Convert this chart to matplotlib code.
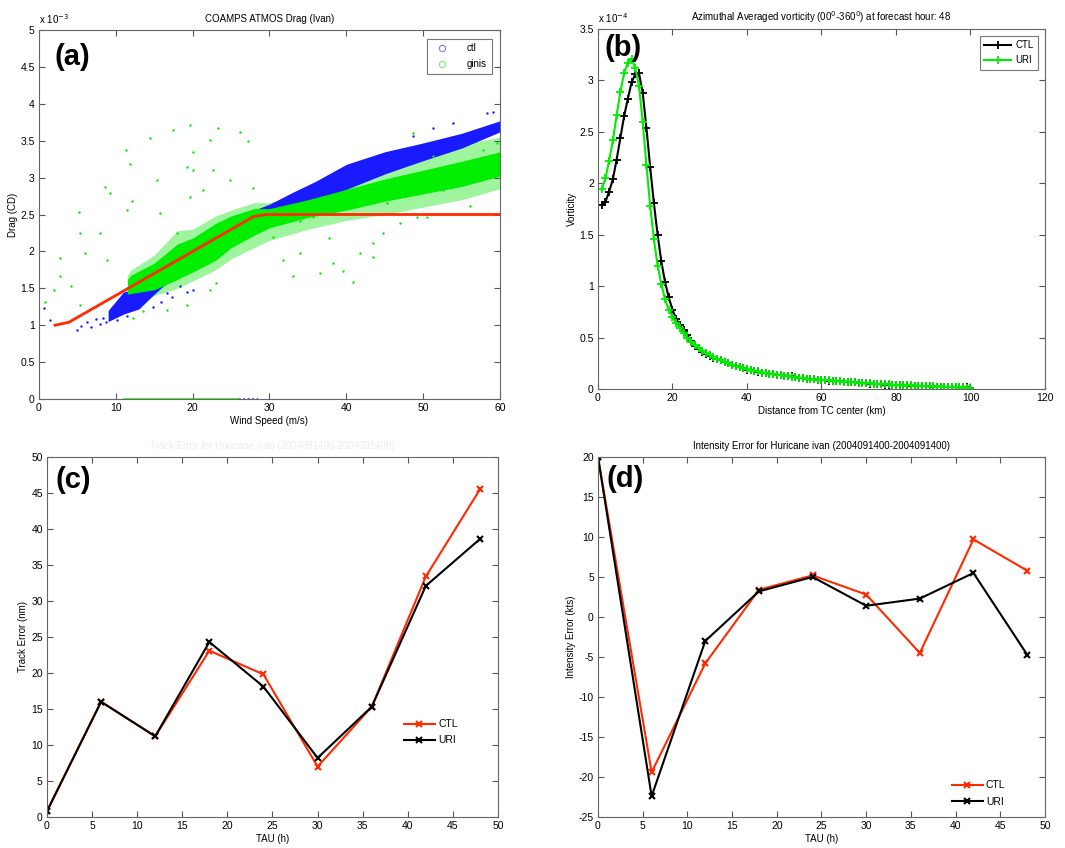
import numpy as np
import matplotlib
matplotlib.use("Agg")
import matplotlib.pyplot as plt
from matplotlib.lines import Line2D

plt.rcParams['font.family'] = ['Liberation Sans', 'DejaVu Sans']
plt.rcParams['font.size'] = 7
plt.rcParams['axes.unicode_minus'] = False
plt.rcParams['axes.linewidth'] = 0.8
plt.rcParams['axes.edgecolor'] = '#555555'
plt.rcParams['xtick.color'] = '#555555'
plt.rcParams['ytick.color'] = '#555555'
plt.rcParams['xtick.labelcolor'] = 'black'
plt.rcParams['ytick.labelcolor'] = 'black'

# ---------------- (a) drag vs wind speed (CD in 1e-3) ----------------
red_ws = [2.1, 3.9, 27.9, 29.5, 60.0]
red_cd = [1.00, 1.04, 2.47, 2.50, 2.50]

# dense cores of the two scatter clouds
ctl_ws = [9, 11, 13, 15, 18, 21, 24, 27, 28.5, 30, 33, 36, 40, 45, 50, 55, 60]
ctl_lo = [1.05, 1.15, 1.22, 1.42, 1.70, 1.85, 2.05, 2.20, 2.45, 2.48, 2.58, 2.70, 2.84, 3.05, 3.23, 3.40, 3.62]
ctl_hi = [1.20, 1.45, 1.50, 1.55, 1.95, 2.15, 2.35, 2.48, 2.58, 2.64, 2.80, 2.95, 3.18, 3.35, 3.47, 3.60, 3.77]

gin_ws = [11.5, 12, 15, 18, 20, 23, 25, 28, 30, 35, 40, 45, 50, 55, 60]
gin_lo = [1.42, 1.43, 1.48, 1.62, 1.72, 1.88, 2.05, 2.22, 2.32, 2.46, 2.56, 2.68, 2.78, 2.88, 3.02]
gin_hi = [1.62, 1.68, 1.84, 2.10, 2.18, 2.38, 2.48, 2.58, 2.58, 2.70, 2.84, 2.98, 3.10, 3.22, 3.35]
gin_halo_lo = [1.35, 1.38, 1.40, 1.50, 1.60, 1.75, 1.90, 2.05, 2.15, 2.30, 2.42, 2.50, 2.60, 2.70, 2.85]
gin_halo_hi = [1.68, 1.75, 1.95, 2.28, 2.30, 2.48, 2.56, 2.66, 2.66, 2.80, 2.96, 3.15, 3.35, 3.45, 3.55]

# scattered outliers
gin_pts_ws = [0.8, 2.7, 4.2, 5.3, 5.2, 2.7, 8.6, 8.8, 11.9, 11.3, 11.5, 12.1, 14.5, 15.8, 17.5, 17.9,
              19.7, 20.1, 21.4, 23.3, 22.3, 26.2, 27.2, 22.7, 24.9, 19.2, 15.3, 9.2, 6.0, 7.9, 30.5,
              31.8, 34.0, 37.7, 36.6, 39.6, 38.3, 41.8, 43.5, 44.8, 47.0, 50.5, 45.3, 48.3, 48.7, 51.3,
              52.6, 56.1, 57.8, 59.6, 43.5, 40.9, 33.1, 19.7, 13.6, 16.6, 19.2, 22.3, 23.1, 12.3, 5.3,
              1.9, 34.0, 35.7, 49.2, 54.8, 27.9, 20.1]
gin_pts_cd = [1.32, 1.91, 1.53, 2.25, 2.53, 1.67, 2.87, 1.89, 3.19, 3.38, 2.56, 2.68, 3.53, 2.52, 3.65, 2.25,
              3.71, 3.35, 2.83, 3.67, 3.51, 3.62, 3.49, 3.10, 2.97, 3.15, 2.97, 2.79, 1.98, 2.25, 2.20,
              1.89, 1.98, 2.18, 1.71, 1.73, 1.84, 1.98, 2.11, 2.25, 2.38, 2.47, 2.65, 2.83, 3.60, 3.29,
              2.83, 2.61, 3.38, 3.47, 1.93, 1.59, 1.66, 2.74, 1.19, 1.21, 1.28, 1.48, 1.57, 1.10, 1.28,
              1.48, 2.41, 2.47, 2.47, 3.06, 2.86, 3.10]
ctl_pts_ws = [0.6, 1.4, 4.9, 5.5, 6.2, 6.8, 7.4, 7.9, 8.3, 8.7, 9.2, 10.1, 11.4, 14.8, 15.9, 16.6,
              17.3, 18.4, 19.2, 20.1, 48.7, 51.3, 53.9, 58.3, 59.1, 57.4]
ctl_pts_cd = [1.23, 1.07, 0.94, 0.99, 1.05, 0.97, 1.08, 1.01, 1.10, 1.04, 1.14, 1.07, 1.12, 1.25, 1.32, 1.43,
              1.38, 1.53, 1.45, 1.48, 3.56, 3.67, 3.74, 3.87, 3.89, 3.62]

# points sitting on CD = 0
gin_zero_ws = [11.0, 26.0]
ctl_zero_ws = [26.0, 28.5]

# ---------------- (b) vorticity profile (1e-4) ----------------
dist_km = list(range(1, 101))
vort_ctl = [1.79, 1.82, 1.92, 2.04, 2.23, 2.44, 2.65, 2.82, 2.98, 3.06,
            3.07, 2.88, 2.54, 2.16, 1.81, 1.50, 1.24, 1.04, 0.89, 0.77,
            0.68, 0.62, 0.57, 0.52, 0.47, 0.42, 0.39, 0.36, 0.34, 0.32,
            0.305, 0.29, 0.28, 0.26, 0.25, 0.235, 0.22, 0.21, 0.20, 0.185,
            0.18, 0.17, 0.165, 0.16, 0.155, 0.15, 0.145, 0.14, 0.135, 0.13,
            0.13, 0.125, 0.115, 0.11, 0.105, 0.10, 0.095, 0.093, 0.09, 0.088,
            0.085, 0.082, 0.08, 0.077, 0.074, 0.072, 0.07, 0.068, 0.065, 0.06,
            0.057, 0.055, 0.052, 0.05, 0.048, 0.045, 0.043, 0.04, 0.039, 0.038,
            0.037, 0.035, 0.034, 0.032, 0.031, 0.03, 0.028, 0.027, 0.025, 0.024,
            0.023, 0.022, 0.021, 0.02, 0.019, 0.018, 0.017, 0.016, 0.015, 0.014]
vort_uri = [1.94, 2.05, 2.22, 2.42, 2.66, 2.89, 3.07, 3.17, 3.21, 3.12,
            2.95, 2.60, 2.18, 1.78, 1.46, 1.20, 1.02, 0.87, 0.77, 0.70,
            0.64, 0.59, 0.54, 0.50, 0.46, 0.43, 0.40, 0.37, 0.35, 0.33,
            0.31, 0.295, 0.28, 0.265, 0.25, 0.235, 0.225, 0.21, 0.20, 0.19,
            0.18, 0.175, 0.17, 0.16, 0.155, 0.15, 0.145, 0.14, 0.135, 0.13,
            0.125, 0.12, 0.115, 0.11, 0.105, 0.10, 0.098, 0.095, 0.092, 0.09,
            0.087, 0.084, 0.081, 0.078, 0.075, 0.072, 0.069, 0.066, 0.063, 0.06,
            0.058, 0.056, 0.054, 0.052, 0.05, 0.048, 0.046, 0.044, 0.042, 0.04,
            0.038, 0.037, 0.035, 0.034, 0.032, 0.031, 0.029, 0.028, 0.026, 0.025,
            0.024, 0.022, 0.021, 0.02, 0.018, 0.017, 0.016, 0.015, 0.014, 0.013]

# ---------------- (c) and (d) track / intensity error ----------------
tau = [0, 6, 12, 18, 24, 30, 36, 42, 48]
track_ctl = [0.8, 16.0, 11.2, 23.1, 19.8, 7.0, 15.3, 33.4, 45.5]
track_uri = [0.8, 16.0, 11.2, 24.3, 18.1, 8.2, 15.3, 32.1, 38.6]
inten_ctl = [20.0, -19.4, -5.8, 3.4, 5.2, 2.8, -4.5, 9.7, 5.8]
inten_uri = [20.0, -22.4, -3.0, 3.2, 5.0, 1.4, 2.3, 5.5, -4.7]

RED = '#ff2a00'
GREEN = '#00ee00'
LIGHT_GREEN = '#9ef59e'
BLUE = '#1a1aff'

fig = plt.figure(figsize=(10.65, 8.48), dpi=100)
ax_a = fig.add_axes([0.0366, 0.5295, 0.4329, 0.4351])
ax_b = fig.add_axes([0.5615, 0.5413, 0.4197, 0.4245])
ax_c = fig.add_axes([0.0441, 0.0366, 0.4235, 0.4245])
ax_d = fig.add_axes([0.5615, 0.0366, 0.4197, 0.4245])


def matlab_box(ax):
    ax.tick_params(direction='in', top=True, right=True, length=4, width=0.8, pad=3, labelsize=7.5)
    for s in ax.spines.values():
        s.set_color('#666666')


# (a)
ax_a.fill_between(gin_ws, gin_halo_lo, gin_halo_hi, color=LIGHT_GREEN, lw=0)
ax_a.fill_between(ctl_ws, ctl_lo, ctl_hi, color=BLUE, lw=0)
ax_a.scatter(ctl_pts_ws, ctl_pts_cd, s=3, color=BLUE, lw=0)
ax_a.plot(ctl_zero_ws, [0, 0], color=BLUE, lw=1.2, ls=':')
ax_a.fill_between(gin_ws, gin_lo, gin_hi, color=GREEN, lw=0)
ax_a.scatter(gin_pts_ws, gin_pts_cd, s=3, color=GREEN, lw=0)
ax_a.plot(gin_zero_ws, [0, 0], color=GREEN, lw=1.5, alpha=0.7)
ax_a.plot(red_ws, red_cd, color=RED, lw=2)
ax_a.set_xlim(0, 60)
ax_a.set_ylim(0, 5)
ax_a.set_xticks(np.arange(0, 61, 10))
ax_a.set_yticks(np.arange(0, 5.01, 0.5))
ax_a.set_yticklabels(['0', '0.5', '1', '1.5', '2', '2.5', '3', '3.5', '4', '4.5', '5'])
ax_a.set_xlabel('Wind Speed (m/s)', labelpad=2)
ax_a.set_ylabel('Drag (CD)', labelpad=2)
ax_a.set_title('COAMPS ATMOS Drag (Ivan)', fontsize=7, pad=6)
ax_a.text(0.0, 1.012, r'x 10$^{-3}$', transform=ax_a.transAxes, fontsize=7, ha='left', va='bottom')
leg_handles = [Line2D([], [], ls='none', marker='o', mfc='none', mec='#6a6aff', ms=4.5, mew=0.7),
               Line2D([], [], ls='none', marker='o', mfc='none', mec='#66ee66', ms=4.5, mew=0.7)]
leg = ax_a.legend(leg_handles, ['ctl', 'ginis'], loc='upper right', fontsize=7, frameon=True,
                  fancybox=False, edgecolor='#555555', handletextpad=1.6, borderpad=0.5,
                  labelspacing=0.6, bbox_to_anchor=(0.993, 0.99))
leg.get_frame().set_linewidth(0.8)
matlab_box(ax_a)

# (b)
ax_b.plot(dist_km, vort_ctl, color='black', lw=1.5, marker='+', ms=6, mew=1.3, label='CTL')
ax_b.plot(dist_km, vort_uri, color=GREEN, lw=1.5, marker='+', ms=6, mew=1.3, label='URI')
ax_b.set_xlim(0, 120)
ax_b.set_ylim(0, 3.5)
ax_b.set_xticks(np.arange(0, 121, 20))
ax_b.set_yticks(np.arange(0, 3.51, 0.5))
ax_b.set_yticklabels(['0', '0.5', '1', '1.5', '2', '2.5', '3', '3.5'])
ax_b.set_xlabel('Distance from TC center (km)', labelpad=2)
ax_b.set_ylabel('Vorticity', labelpad=2)
ax_b.set_title(r'Azimuthal Averaged vorticity (00$^0$-360$^0$) at forecast hour: 48', fontsize=7, pad=6)
ax_b.text(0.0, 1.012, r'x 10$^{-4}$', transform=ax_b.transAxes, fontsize=7, ha='left', va='bottom')
leg = ax_b.legend(loc='upper right', fontsize=7, frameon=True, fancybox=False, edgecolor='#555555',
                  handlelength=2.8, handletextpad=0.4, borderpad=0.45, labelspacing=0.55,
                  bbox_to_anchor=(0.995, 0.995))
leg.get_frame().set_linewidth(0.8)
matlab_box(ax_b)

# (c)
ax_c.plot(tau, track_ctl, color=RED, lw=1.5, marker='x', ms=4, mew=1.5, label='CTL')
ax_c.plot(tau, track_uri, color='black', lw=1.5, marker='x', ms=4, mew=1.5, label='URI')
ax_c.set_xlim(0, 50)
ax_c.set_ylim(0, 50)
ax_c.set_xticks(np.arange(0, 51, 5))
ax_c.set_yticks(np.arange(0, 51, 5))
ax_c.set_xlabel('TAU (h)', labelpad=2)
ax_c.set_ylabel('Track Error (nm)', labelpad=2)
ax_c.set_title('Track Error for Huricane ivan (2004091400-2004091400)', fontsize=7, pad=6,
               color='#ececec')
ax_c.legend(loc='center left', bbox_to_anchor=(0.77, 0.235), fontsize=7.5, frameon=False,
            handlelength=3.0, handletextpad=0.3, labelspacing=0.6)
matlab_box(ax_c)

# (d)
ax_d.plot(tau, inten_ctl, color=RED, lw=1.5, marker='x', ms=4, mew=1.5, label='CTL')
ax_d.plot(tau, inten_uri, color='black', lw=1.5, marker='x', ms=4, mew=1.5, label='URI')
ax_d.set_xlim(0, 50)
ax_d.set_ylim(-25, 20)
ax_d.set_xticks(np.arange(0, 51, 5))
ax_d.set_yticks(np.arange(-25, 21, 5))
ax_d.set_xlabel('TAU (h)', labelpad=2)
ax_d.set_ylabel('Intensity Error (kts)', labelpad=2)
ax_d.set_title('Intensity Error for Huricane ivan (2004091400-2004091400)', fontsize=7, pad=6)
ax_d.legend(loc='center left', bbox_to_anchor=(0.77, 0.065), fontsize=7.5, frameon=False,
            handlelength=3.0, handletextpad=0.3, labelspacing=0.6)
matlab_box(ax_d)

# panel letters
for ax, lab, x0, y0 in [(ax_a, '(a)', 0.033, 0.965), (ax_b, '(b)', 0.015, 0.985),
                        (ax_c, '(c)', 0.018, 0.975), (ax_d, '(d)', 0.018, 0.978)]:
    ax.text(x0, y0, lab, transform=ax.transAxes, fontsize=21, fontweight='bold',
            ha='left', va='top', zorder=10)

fig.savefig('out.png', dpi=100)
